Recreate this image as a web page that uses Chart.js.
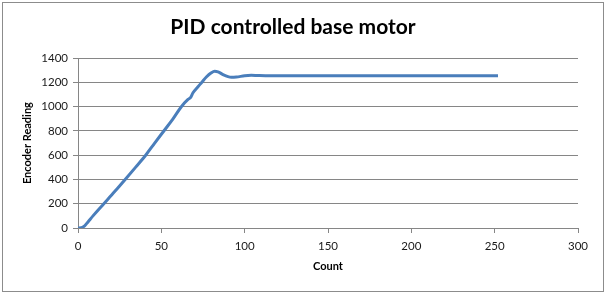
<!DOCTYPE html>
<html>
<head>
<meta charset="utf-8">
<script src="https://cdn.jsdelivr.net/npm/chart.js@4"></script>
<style>
html, body { margin: 0; padding: 0; background: #fff; }
#box { position: absolute; left: 2px; top: 2px; width: 600px; height: 288px; border: 1px solid #8c8c8c; }
#wrap { position: absolute; left: 0; top: 0; width: 606px; height: 294px; }
</style>
</head>
<body>
<div id="box"></div>
<div id="wrap"><canvas id="chart" width="606" height="294"></canvas></div>
<script>
var countValues   = [0, 2, 4, 6, 9, 15.5, 22, 28.3, 34.5, 40.6, 46, 51.5, 57, 62, 66, 67.5, 69, 72, 74.2, 77, 80, 82, 84, 87, 90, 92, 95, 100, 104, 108, 115, 252];
var readingValues = [0, 2, 18, 50, 100, 200, 300, 400, 500, 600, 700, 800, 900, 1000, 1060, 1075, 1115, 1165, 1200, 1245, 1280, 1292, 1287, 1265, 1248, 1243, 1245, 1255, 1259, 1257, 1255, 1255];
var xTicks = [0, 50, 100, 150, 200, 250, 300];
var yTicks = [0, 200, 400, 600, 800, 1000, 1200, 1400];

var points = countValues.map(function (c, i) { return { x: c, y: readingValues[i] }; });

var axisGray = '#868686';
var fontName = 'Lato, "Open Sans", sans-serif';

new Chart('chart', {
  type: 'line',
  data: {
    datasets: [{
      label: 'Encoder Reading',
      data: points,
      borderColor: '#4A7EBB',
      backgroundColor: '#4A7EBB',
      borderWidth: 3,
      pointRadius: 0,
      cubicInterpolationMode: 'monotone',
      fill: false
    }]
  },
  options: {
    responsive: false,
    animation: false,
    layout: { padding: { left: 8, right: 28, top: 0, bottom: 0 } },
    plugins: {
      legend: { display: false },
      tooltip: { enabled: false },
      title: {
        display: true,
        text: 'PID controlled base motor',
        color: '#000',
        font: { family: fontName, size: 21, weight: 'bold' },
        padding: { top: 15, bottom: 18 }
      }
    },
    scales: {
      x: {
        type: 'linear',
        min: xTicks[0],
        max: xTicks[xTicks.length - 1],
        afterFit: function (s) { s.height = 66; },
        ticks: {
          stepSize: xTicks[1] - xTicks[0],
          color: '#1a1a1a',
          padding: 6,
          maxRotation: 0,
          font: { family: fontName, size: 11.5 },
          callback: function (v) { return String(v); }
        },
        grid: { drawOnChartArea: false, drawTicks: true, tickLength: 5, color: axisGray },
        border: { display: true, color: axisGray },
        title: {
          display: true,
          text: 'Count',
          color: '#000',
          font: { family: fontName, size: 11, weight: 'bold' },
          padding: { top: 0, bottom: 21 }
        }
      },
      y: {
        min: yTicks[0],
        max: yTicks[yTicks.length - 1],
        afterFit: function (s) { s.width = 70; },
        ticks: {
          stepSize: yTicks[1] - yTicks[0],
          color: '#1a1a1a',
          padding: 5,
          font: { family: fontName, size: 11.5 },
          callback: function (v) { return String(v); }
        },
        grid: { color: axisGray, tickLength: 5 },
        border: { display: true, color: axisGray },
        title: {
          display: true,
          text: 'Encoder Reading',
          color: '#000',
          font: { family: fontName, size: 11, weight: 'bold' },
          padding: { top: 13, bottom: 0 }
        }
      }
    }
  }
});
</script>
</body>
</html>
